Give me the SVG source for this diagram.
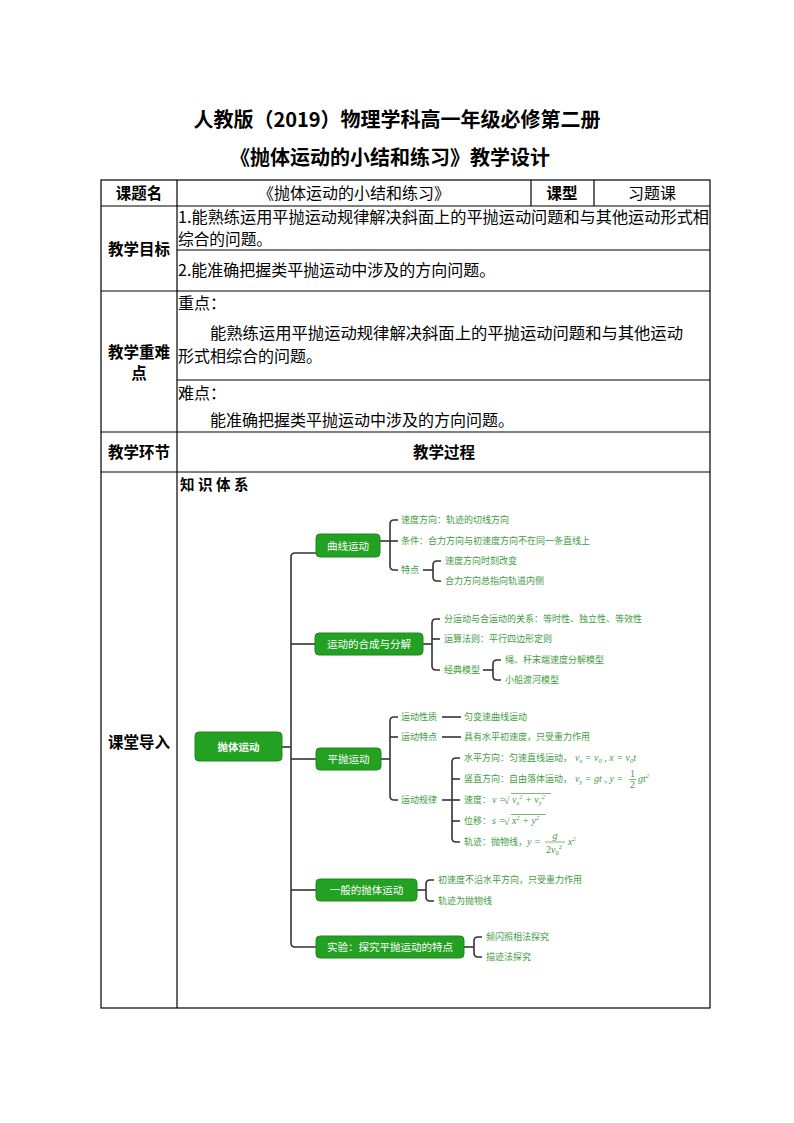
<svg xmlns="http://www.w3.org/2000/svg" width="794" height="1123" viewBox="0 0 794 1123">
<style>
.ttl{font-family:"Noto Sans CJK SC",sans-serif;font-size:20px;font-weight:bold;fill:#000}
.tb{font-family:"Noto Sans CJK SC",sans-serif;font-size:16px;fill:#000}
.hd{font-family:"Noto Sans CJK SC",sans-serif;font-size:15.5px;font-weight:bold;fill:#000}
.grid{stroke:#000;stroke-width:1.2;fill:none}
.nd{fill:#23a123;stroke:#1b8a1b;stroke-width:1}
.nt{font-family:"Noto Sans CJK SC",sans-serif;font-size:10.5px;fill:#fff}
.ct{font-family:"Noto Sans CJK SC",sans-serif;font-size:9px;fill:#3f9c3f}
.m{font-family:"Liberation Serif",serif;font-style:italic;font-size:10px;fill:#3f9c3f}
.mn{font-family:"Liberation Serif",serif;font-style:normal;font-size:10px;fill:#3f9c3f}
.sb{font-size:6.5px}
.cn{fill:none;stroke:#333;stroke-width:1.6}
.mb{stroke:#3f9c3f;stroke-width:0.7}
</style>

<g id="titles">
<text class="ttl" x="397" y="127" text-anchor="middle">人教版（2019）物理学科高一年级必修第二册</text>
<text class="ttl" x="390" y="165" text-anchor="middle">《抛体运动的小结和练习》教学设计</text>
</g>

<g id="table">
<rect class="grid" x="101" y="180" width="609" height="828"/>
<line class="grid" x1="177" y1="180" x2="177" y2="1008"/>
<line class="grid" x1="531" y1="180" x2="531" y2="206"/>
<line class="grid" x1="594" y1="180" x2="594" y2="206"/>
<line class="grid" x1="101" y1="206" x2="710" y2="206"/>
<line class="grid" x1="177" y1="250" x2="710" y2="250"/>
<line class="grid" x1="101" y1="291" x2="710" y2="291"/>
<line class="grid" x1="177" y1="380" x2="710" y2="380"/>
<line class="grid" x1="101" y1="432" x2="710" y2="432"/>
<line class="grid" x1="101" y1="472" x2="710" y2="472"/>

<text class="hd" x="139" y="199" text-anchor="middle">课题名</text>
<text class="tb" x="354" y="199" text-anchor="middle">《抛体运动的小结和练习》</text>
<text class="hd" x="562" y="199" text-anchor="middle">课型</text>
<text class="tb" x="652" y="199" text-anchor="middle">习题课</text>

<text class="hd" x="139" y="255" text-anchor="middle">教学目标</text>
<text class="tb" x="178" y="222.5" font-size="14.5" textLength="531" lengthAdjust="spacingAndGlyphs">1.能熟练运用平抛运动规律解决斜面上的平抛运动问题和与其他运动形式相</text>
<text class="tb" x="178" y="245" font-size="14.5" textLength="94" lengthAdjust="spacingAndGlyphs">综合的问题。</text>
<text class="tb" x="178" y="276">2.能准确把握类平抛运动中涉及的方向问题。</text>

<text class="hd" x="139" y="358" text-anchor="middle">教学重难</text>
<text class="hd" x="139" y="379" text-anchor="middle">点</text>
<text class="tb" x="178" y="309">重点：</text>
<text class="tb" x="210" y="339" textLength="473" lengthAdjust="spacingAndGlyphs">能熟练运用平抛运动规律解决斜面上的平抛运动问题和与其他运动</text>
<text class="tb" x="178" y="362">形式相综合的问题。</text>
<text class="tb" x="178" y="399">难点：</text>
<text class="tb" x="210" y="426">能准确把握类平抛运动中涉及的方向问题。</text>

<text class="hd" x="139" y="458" text-anchor="middle">教学环节</text>
<text class="hd" x="444" y="458" text-anchor="middle">教学过程</text>
<text class="hd" x="139" y="748" text-anchor="middle">课堂导入</text>
<text x="180" y="490" font-family="Noto Sans CJK SC, sans-serif" font-size="14.5" font-weight="bold" letter-spacing="3.5" fill="#000">知识体系</text>
</g>

<g id="connectors">
<path class="cn" d="M316 553 H295 Q291 553 291 557 V943 Q291 947 295 947 H316"/>
<path class="cn" d="M282 747 H291"/>
<path class="cn" d="M291 644 H315"/>
<path class="cn" d="M291 759 H316"/>
<path class="cn" d="M291 890 H316"/>
<path class="cn" d="M380 541 H398"/>
<path class="cn" d="M398 520 H394 Q390 520 390 524 V566 Q390 570 394 570 H398"/>
<path class="cn" d="M423 570 H433"/>
<path class="cn" d="M441 561 H437 Q433 561 433 565 V577 Q433 581 437 581 H441"/>
<path class="cn" d="M423 644 H432"/>
<path class="cn" d="M440 619 H436 Q432 619 432 623 V666 Q432 670 436 670 H440"/>
<path class="cn" d="M432 639 H440"/>
<path class="cn" d="M483 670 H493"/>
<path class="cn" d="M501 660 H497 Q493 660 493 664 V676 Q493 680 497 680 H501"/>
<path class="cn" d="M381 759 H390"/>
<path class="cn" d="M398 717 H394 Q390 717 390 721 V796 Q390 800 394 800 H398"/>
<path class="cn" d="M390 737 H398"/>
<path class="cn" d="M442 717 H461"/>
<path class="cn" d="M442 737 H461"/>
<path class="cn" d="M442 800 H460"/>
<path class="cn" d="M460 758 H456 Q452 758 452 762 V838 Q452 842 456 842 H460"/>
<path class="cn" d="M452 779 H460"/>
<path class="cn" d="M452 821 H460"/>
<path class="cn" d="M417 890 H426"/>
<path class="cn" d="M434 880 H430 Q426 880 426 884 V897 Q426 901 430 901 H434"/>
<path class="cn" d="M464 947 H474"/>
<path class="cn" d="M482 937 H478 Q474 937 474 941 V953 Q474 957 478 957 H482"/>
</g>

<g id="root">
<rect class="nd" x="195" y="732" width="87" height="29" rx="4"/>
<text class="nt" x="238.5" y="751" text-anchor="middle" font-size="12" font-weight="bold">抛体运动</text>
</g>

<g id="n-curve">
<rect class="nd" x="316" y="534" width="64" height="23" rx="4"/>
<text class="nt" x="348" y="549.5" text-anchor="middle">曲线运动</text>
<text class="ct" x="401" y="523.2">速度方向：轨迹的切线方向</text>
<text class="ct" x="401" y="544.2">条件：合力方向与初速度方向不在同一条直线上</text>
<text class="ct" x="401" y="573.2">特点</text>
<text class="ct" x="445" y="564.2">速度方向时刻改变</text>
<text class="ct" x="445" y="584.2">合力方向总指向轨道内侧</text>
</g>

<g id="n-compose">
<rect class="nd" x="315" y="633" width="108" height="22" rx="4"/>
<text class="nt" x="369" y="648" text-anchor="middle">运动的合成与分解</text>
<text class="ct" x="444" y="622.2">分运动与合运动的关系：等时性、独立性、等效性</text>
<text class="ct" x="444" y="642.2">运算法则：平行四边形定则</text>
<text class="ct" x="444" y="673.2">经典模型</text>
<text class="ct" x="505" y="663.2">绳、杆末端速度分解模型</text>
<text class="ct" x="505" y="683.2">小船渡河模型</text>
</g>

<g id="n-flat">
<rect class="nd" x="316" y="748" width="65" height="22" rx="4"/>
<text class="nt" x="348.5" y="763" text-anchor="middle">平抛运动</text>
<text class="ct" x="401" y="720.2">运动性质</text>
<text class="ct" x="401" y="740.2">运动特点</text>
<text class="ct" x="401" y="803.2">运动规律</text>
<text class="ct" x="464" y="720.2">匀变速曲线运动</text>
<text class="ct" x="464" y="740.2">具有水平初速度，只受重力作用</text>
<text class="ct" x="464" y="761.2">水平方向：匀速直线运动，</text>
<text class="m" x="575" y="761.2">v<tspan class="sb" dy="2">x</tspan><tspan dy="-2"> = v</tspan><tspan class="sb" dy="2">0</tspan><tspan dy="-2" font-style="normal"> , </tspan><tspan>x = v</tspan><tspan class="sb" dy="2">0</tspan><tspan dy="-2">t</tspan></text>
<text class="ct" x="464" y="782.2">竖直方向：自由落体运动，</text>
<text class="m" x="575" y="782.2">v<tspan class="sb" dy="2">y</tspan><tspan dy="-2"> = gt </tspan><tspan font-style="normal">, </tspan><tspan>y = </tspan></text>
<text class="mn" x="632.5" y="777" text-anchor="middle" font-size="8.5">1</text>
<line class="mb" x1="629" y1="779.5" x2="636" y2="779.5"/>
<text class="mn" x="632.5" y="788" text-anchor="middle" font-size="8.5">2</text>
<text class="m" x="638" y="782.2">gt<tspan class="sb" dy="-4">2</tspan></text>
<text class="ct" x="464" y="803.2">速度：</text>
<text class="m" x="492" y="803.2">v = </text>
<text class="mn" x="504" y="804" font-size="12">√</text>
<line class="mb" x1="511" y1="793.5" x2="551" y2="793.5"/>
<text class="m" x="512" y="803.2">v<tspan class="sb" dy="2">x</tspan><tspan class="sb" dy="-6">2</tspan><tspan dy="4"> + v</tspan><tspan class="sb" dy="2">y</tspan><tspan class="sb" dy="-6">2</tspan></text>
<text class="ct" x="464" y="824.2">位移：</text>
<text class="m" x="492" y="824.2">s = </text>
<text class="mn" x="504" y="825" font-size="12">√</text>
<line class="mb" x1="511" y1="814.5" x2="546" y2="814.5"/>
<text class="m" x="512" y="824.2">x<tspan class="sb" dy="-4">2</tspan><tspan dy="4"> + y</tspan><tspan class="sb" dy="-4">2</tspan></text>
<text class="ct" x="464" y="845.2">轨迹：抛物线，</text>
<text class="m" x="527" y="845.2">y = </text>
<text class="m" x="555" y="838.5" text-anchor="middle">g</text>
<line class="mb" x1="545" y1="842" x2="565" y2="842"/>
<text class="mn" x="546" y="852.5">2<tspan font-style="italic">v</tspan><tspan class="sb" dy="2">0</tspan><tspan class="sb" dy="-6">2</tspan></text>
<text class="m" x="568" y="845.2">x<tspan class="sb" dy="-4">2</tspan></text>
</g>

<g id="n-general">
<rect class="nd" x="316" y="879" width="101" height="22" rx="4"/>
<text class="nt" x="366.5" y="894" text-anchor="middle">一般的抛体运动</text>
<text class="ct" x="438" y="883.2">初速度不沿水平方向，只受重力作用</text>
<text class="ct" x="438" y="904.2">轨迹为抛物线</text>
</g>

<g id="n-exp">
<rect class="nd" x="316" y="936" width="148" height="22" rx="4"/>
<text class="nt" x="390" y="951" text-anchor="middle">实验：探究平抛运动的特点</text>
<text class="ct" x="486" y="940.2">频闪照相法探究</text>
<text class="ct" x="486" y="960.2">描迹法探究</text>
</g>
</svg>
